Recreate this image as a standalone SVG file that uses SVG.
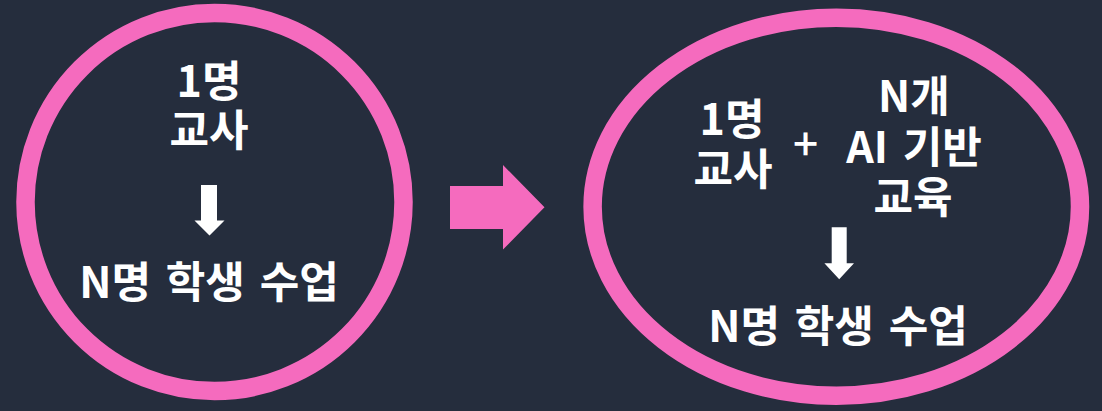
<svg xmlns="http://www.w3.org/2000/svg" width="1102" height="411" viewBox="0 0 1102 411">
<style>
.ring{fill:none;stroke:#f56bbe;stroke-width:18.5}
.t{font-family:"Noto Sans CJK KR","Noto Sans",sans-serif;font-weight:700;font-size:43px;fill:#ffffff;text-anchor:middle;word-spacing:5px}
.p{font-family:"Noto Sans CJK KR","Noto Sans",sans-serif;font-weight:500;font-size:44px;fill:#ffffff;text-anchor:middle}
.wa{fill:#ffffff}
.pa{fill:#f56bbe}
</style>
<rect width="1102" height="411" fill="#252d3d"/>
<g id="before">
<circle class="ring" cx="214.5" cy="202" r="189"/>
<text class="t"><tspan x="209" y="97">1명</tspan><tspan x="209" y="146">교사</tspan></text>
<polygon class="wa" points="201,185 217,185 217,220.5 224.5,220.5 209.5,235.5 194.5,220.5 201,220.5"/>
<text class="t" x="209" y="298">N명 학생 수업</text>
</g>
<g id="connectors">
<polygon class="pa" points="450,186 503,186 503,165 544.5,207.3 503,249.5 503,229 450,229"/>
</g>
<g id="after">
<ellipse class="ring" cx="836.3" cy="206.7" rx="243.7" ry="189"/>
<text class="t"><tspan x="732" y="135">1명</tspan><tspan x="733" y="185">교사</tspan></text>
<text class="p" x="805.5" y="160">+</text>
<text class="t"><tspan x="914" y="112">N개</tspan><tspan x="914" y="163">AI 기반</tspan><tspan x="913" y="213">교육</tspan></text>
<polygon class="wa" points="831.7,227.3 846.7,227.3 846.7,263.3 854,263.3 839.2,279.3 824.4,263.3 831.7,263.3"/>
<text class="t" x="838" y="341.5">N명 학생 수업</text>
</g>
</svg>
